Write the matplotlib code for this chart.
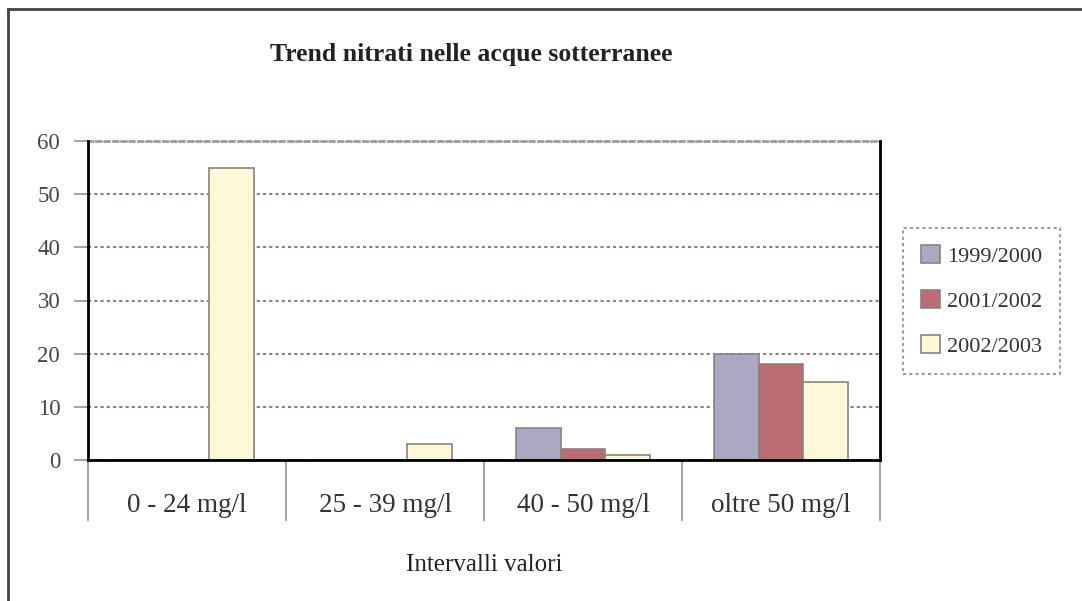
import numpy as np
import matplotlib
matplotlib.use('Agg')
import matplotlib.pyplot as plt
from matplotlib.lines import Line2D

# data
categories = ['0 - 24 mg/l', '25 - 39 mg/l', '40 - 50 mg/l', 'oltre 50 mg/l']
series_names = ['1999/2000', '2001/2002', '2002/2003']
vals_1999_2000 = [0, 0, 6, 20]
vals_2001_2002 = [0, 0, 2, 18]
vals_2002_2003 = [55, 3, 1, 14.7]
y_ticks = [0, 10, 20, 30, 40, 50, 60]

colors = ['#ada8c2', '#bc6d73', '#fff8d6']
edge = '#8a8282'

plt.rcParams['font.family'] = ['Liberation Serif', 'DejaVu Serif']

W, H = 1082, 601
fig = plt.figure(figsize=(W / 100, H / 100), dpi=100)
ax = fig.add_axes([88 / W, 1 - 460 / H, (880 - 88) / W, (460 - 141) / H])

x = np.arange(len(categories)) + 0.5
bw = 0.225
all_vals = [vals_1999_2000, vals_2001_2002, vals_2002_2003]
for i, (name, vals) in enumerate(zip(series_names, all_vals)):
    ax.bar(x + (i - 1) * bw, vals, bw, color=colors[i], edgecolor=edge,
           linewidth=1.2, label=name, zorder=3)

ax.set_xlim(0, len(categories))
ax.set_ylim(0, 60)
ax.set_yticks(y_ticks)
ax.tick_params(axis='y', length=10, width=1.2, color='#9a9090', pad=10,
               labelsize=16.5, labelcolor='#444444')
ax.grid(axis='y', color='#8a8080', linestyle=(0, (1.5, 1.5)), linewidth=1.5, zorder=1)

# category labels centered, separators at boundaries
ax.set_xticks(x)
ax.set_xticklabels(categories)
ax.set_xticks(np.arange(len(categories) + 1), minor=True)
ax.tick_params(axis='x', which='major', length=0, pad=24, labelsize=19.5,
               labelcolor='#333333')
ax.tick_params(axis='x', which='minor', length=44, width=1.3, color='#a09898')
ax.set_xlabel('Intervalli valori', fontsize=18, color='#222222', labelpad=20)

for s in ['left', 'bottom', 'right']:
    ax.spines[s].set_color('black')
    ax.spines[s].set_linestyle((0, (1, 1)))
    ax.spines[s].set_linewidth(2)
    ax.spines[s].set_zorder(4)
ax.spines['top'].set_color('#a09a9a')
ax.spines['top'].set_linestyle((0, (1.5, 1.5)))
ax.spines['top'].set_linewidth(2)

fig.text(471 / W, 1 - 55 / H, 'Trend nitrati nelle acque sotterranee',
         ha='center', va='center', fontsize=18.5, fontweight='bold', color='#222222')

leg = fig.legend(loc='center left', bbox_to_anchor=(903 / W, 1 - 301 / H),
                 fontsize=16, frameon=True, fancybox=False, handlelength=0.85,
                 handleheight=0.85, handletextpad=0.35, labelspacing=1.05,
                 borderpad=0.8, borderaxespad=0)
leg.get_frame().set_edgecolor('#8a8282')
leg.get_frame().set_linestyle((0, (1.5, 1.5)))
leg.get_frame().set_linewidth(1.5)
for t in leg.get_texts():
    t.set_color('#333333')

# outer chart border (top and left only visible)
fig.add_artist(Line2D([7.5 / W, 1], [1 - 8.5 / H, 1 - 8.5 / H],
                      transform=fig.transFigure, color='#444444', linewidth=2))
fig.add_artist(Line2D([7.5 / W, 7.5 / W], [0, 1 - 8.5 / H],
                      transform=fig.transFigure, color='#444444', linewidth=2))

fig.savefig('out.png', dpi=100)
